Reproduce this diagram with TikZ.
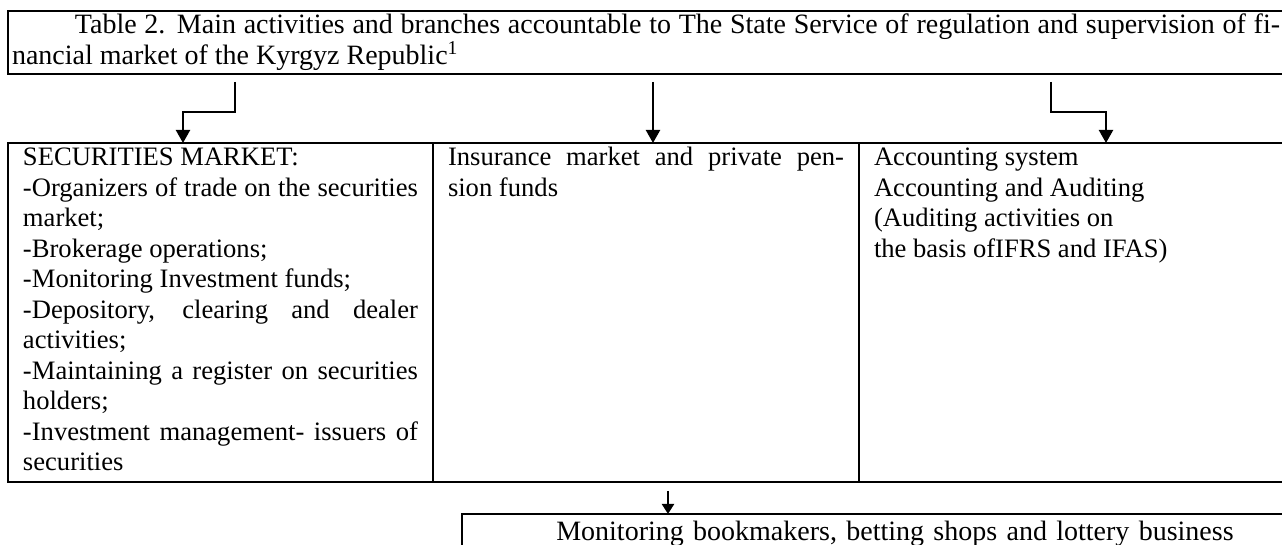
\documentclass[tikz,border=0pt]{standalone}
\usepackage{fontspec}
\setmainfont{Liberation Serif}[Ligatures=NoCommon]
\usepackage{tikz}
\usetikzlibrary{arrows.meta}
\setlength{\parindent}{0pt}

\begin{document}
\begin{tikzpicture}[x=0.5pt, y=-0.5pt,
				>={Triangle[width=7pt, length=6.5pt]},
				line width=1.1pt,
				cell/.style={draw, anchor=north west, outer sep=0pt, inner xsep=7.5pt, inner ysep=2.5pt, text width=197.5pt, align=justify, text height=9pt, text depth=155.5pt, font=\fontsize{13.3}{15.25}\selectfont}]
				\useasboundingbox (0,0) rectangle (1282,545);
				\clip (0,0) rectangle (1282,545);
				\node at (8,11) (a) [draw, anchor=north west, outer sep=0pt, inner xsep=2pt, inner ysep=1.5pt, text width=634pt, align=justify, font=\fontsize{14}{15.5}\selectfont] {\rightskip=6pt\relax\hspace*{31.5pt}Table 2. Main activities and branches accountable to The State Service of regulation and supervision of fi-\linebreak nancial market of the Kyrgyz Republic\textsuperscript{1}};
				\node at (8,143) (b) [cell] {SECURITIES MARKET:\par -Organizers of trade on the securities\linebreak market;\par -Brokerage operations;\par -Monitoring Investment funds;\par -Depository, clearing and dealer\linebreak activities;\par -Maintaining a register on securities\linebreak holders;\par -Investment management- issuers of\linebreak securities};
				\node at (433,143) (c) [cell, text width=198pt] {Insurance market and private pen-\linebreak sion funds};
				\node at (859,143) (d) [cell] {Accounting system\par Accounting and Auditing\par (Auditing activities on\par the basis ofIFRS and IFAS)};
				\node at (462,514) (e) [draw, anchor=north west, outer sep=0pt, inner xsep=0pt, inner ysep=3.75pt, text width=433pt, align=center, text depth=20pt, font=\fontsize{14}{16}\selectfont] {Monitoring bookmakers, betting shops and lottery business};
				\coordinate (f) at ([shift={(22,9)}]c.south);
				\draw[->, black] ([shift={(227,8)}]a.south west) |- ([shift={(-37.5,-31)}]b.north) -- ([shift={(-37.5,0)}]b.north);
				\draw[->, black] ([shift={(645,8)}]a.south west) -- ([shift={(7,0)}]c.north);
				\draw[->, black] ([shift={(1043,8)}]a.south west) |- ([shift={(34.5,-31)}]d.north) -- ([shift={(34.5,0)}]d.north);
				\draw[-{Triangle[width=6pt, length=5pt]}, black] (f) -- (f |- e.north);
			\end{tikzpicture}
\end{document}
